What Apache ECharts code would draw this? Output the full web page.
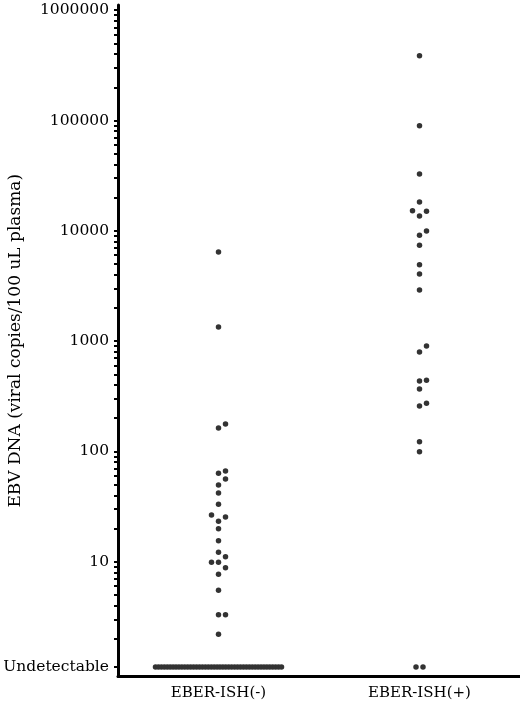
<!DOCTYPE html>
<html><head><meta charset="utf-8">
<script src="https://cdn.jsdelivr.net/npm/echarts@6/dist/echarts.min.js"></script>
<style>html,body{margin:0;padding:0;background:#fff}#c{width:520px;height:707px}</style>
</head><body><div id="c"></div>
<script>
// ---- data ----
const categories = ['EBER-ISH(-)', 'EBER-ISH(+)'];
const negativeValues = [6430, 1340, 177, 163, 66.4, 63.2, 56.2, 49.5, 42.0, 33.1, 26.5, 25.4, 23.2, 19.9, 15.5, 12.2, 11.1, 9.9, 9.9, 8.8, 7.7, 5.5, 3.3, 3.3, 2.2];
const positiveValues = [386000, 89700, 32700, 18200, 15200, 15000, 13600, 9950, 9100, 7400, 4930, 4050, 2900, 904, 796, 441, 435, 368, 273, 258, 122, 99];
const undetectableCounts = [44, 2];
const undetectableValue = 1.11;
const yTickValues = [1.11, 10, 100, 1000, 10000, 100000, 1000000];
const yTickLabels = ['Undetectable', '10', '100', '1000', '10000', '100000', '1000000'];

// minor ticks at every log step
const minorTicks = [undetectableValue];
for (let k = 0; k <= 5; k++) {
  for (let m = 2; m <= 10; m++) minorTicks.push(m * Math.pow(10, k));
}

const serif = 'DejaVu Serif';
const chart = echarts.init(document.getElementById('c'), null, {renderer: 'canvas'});

function labelFor(v) {
  let best = 0, bd = Infinity;
  yTickValues.forEach((t, i) => {
    const d = Math.abs(Math.log10(t) - Math.log10(v));
    if (d < bd) { bd = d; best = i; }
  });
  return yTickLabels[best];
}

chart.setOption({
  animation: false,
  grid: {left: 118, right: 0, top: 5, bottom: 30.5, containLabel: false, outerBoundsMode: 'none'},
  xAxis: {
    type: 'value', min: 0, max: 2,
    axisLine: {show: true, onZero: false, lineStyle: {color: '#000', width: 3}},
    axisTick: {show: false},
    splitLine: {show: false},
    axisLabel: {
      customValues: [0.5, 1.5],
      formatter: v => categories[Math.round(v - 0.5)],
      fontFamily: serif, fontSize: 15, color: '#000', margin: 9
    }
  },
  yAxis: {
    type: 'log', logBase: 10, min: 0.910, max: 1114000,
    name: 'EBV DNA (viral copies/100 uL plasma)',
    nameLocation: 'middle', nameGap: 94, nameMoveOverlap: false,
    nameTextStyle: {fontFamily: serif, fontSize: 17, color: '#000'},
    axisLine: {show: true, onZero: false, lineStyle: {color: '#000', width: 3}},
    axisTick: {show: true, inside: false, length: 4, customValues: minorTicks, lineStyle: {color: '#000', width: 2}},
    splitLine: {show: false},
    minorTick: {show: false},
    axisLabel: {
      customValues: yTickValues,
      formatter: v => labelFor(v),
      fontFamily: serif, fontSize: 15.5, color: '#000', margin: 9
    }
  },
  series: [{type: 'scatter', data: []}]
});

// ---- beeswarm layout using the chart's own scales ----
const LANE_PX = 7, DOT = 6.5;
function pxPerX() {
  const a = chart.convertToPixel({xAxisIndex: 0, yAxisIndex: 0}, [0, 10]);
  const b = chart.convertToPixel({xAxisIndex: 0, yAxisIndex: 0}, [1, 10]);
  return b[0] - a[0];
}
function swarm(values, center) {
  const sx = pxPerX();
  const sorted = values.slice().sort((a, b) => a - b);
  const placed = [];
  const out = [];
  sorted.forEach(v => {
    const py = chart.convertToPixel({xAxisIndex: 0, yAxisIndex: 0}, [center, v])[1];
    const lanes = [0, 1, -1, 2, -2, 3, -3];
    for (const l of lanes) {
      const ok = placed.every(p => Math.hypot((p.l - l) * LANE_PX, p.py - py) >= DOT);
      if (ok) { placed.push({l, py}); out.push([center + l * LANE_PX / sx, v]); break; }
    }
  });
  return out;
}
function undetectableRow(n, center) {
  const sx = pxPerX();
  const step = Math.min(LANE_PX, 126 / Math.max(1, n - 1));
  const out = [];
  for (let i = 0; i < n; i++) {
    out.push([center + (i - (n - 1) / 2) * step / sx, undetectableValue]);
  }
  return out;
}

const data = []
  .concat(swarm(negativeValues, 0.5))
  .concat(undetectableRow(undetectableCounts[0], 0.5))
  .concat(swarm(positiveValues, 1.5))
  .concat(undetectableRow(undetectableCounts[1], 1.5));

chart.setOption({
  series: [{
    type: 'scatter', data: data, symbolSize: 5.5,
    itemStyle: {color: '#333', opacity: 1},
    z: 3
  }]
});
</script>
</body></html>
